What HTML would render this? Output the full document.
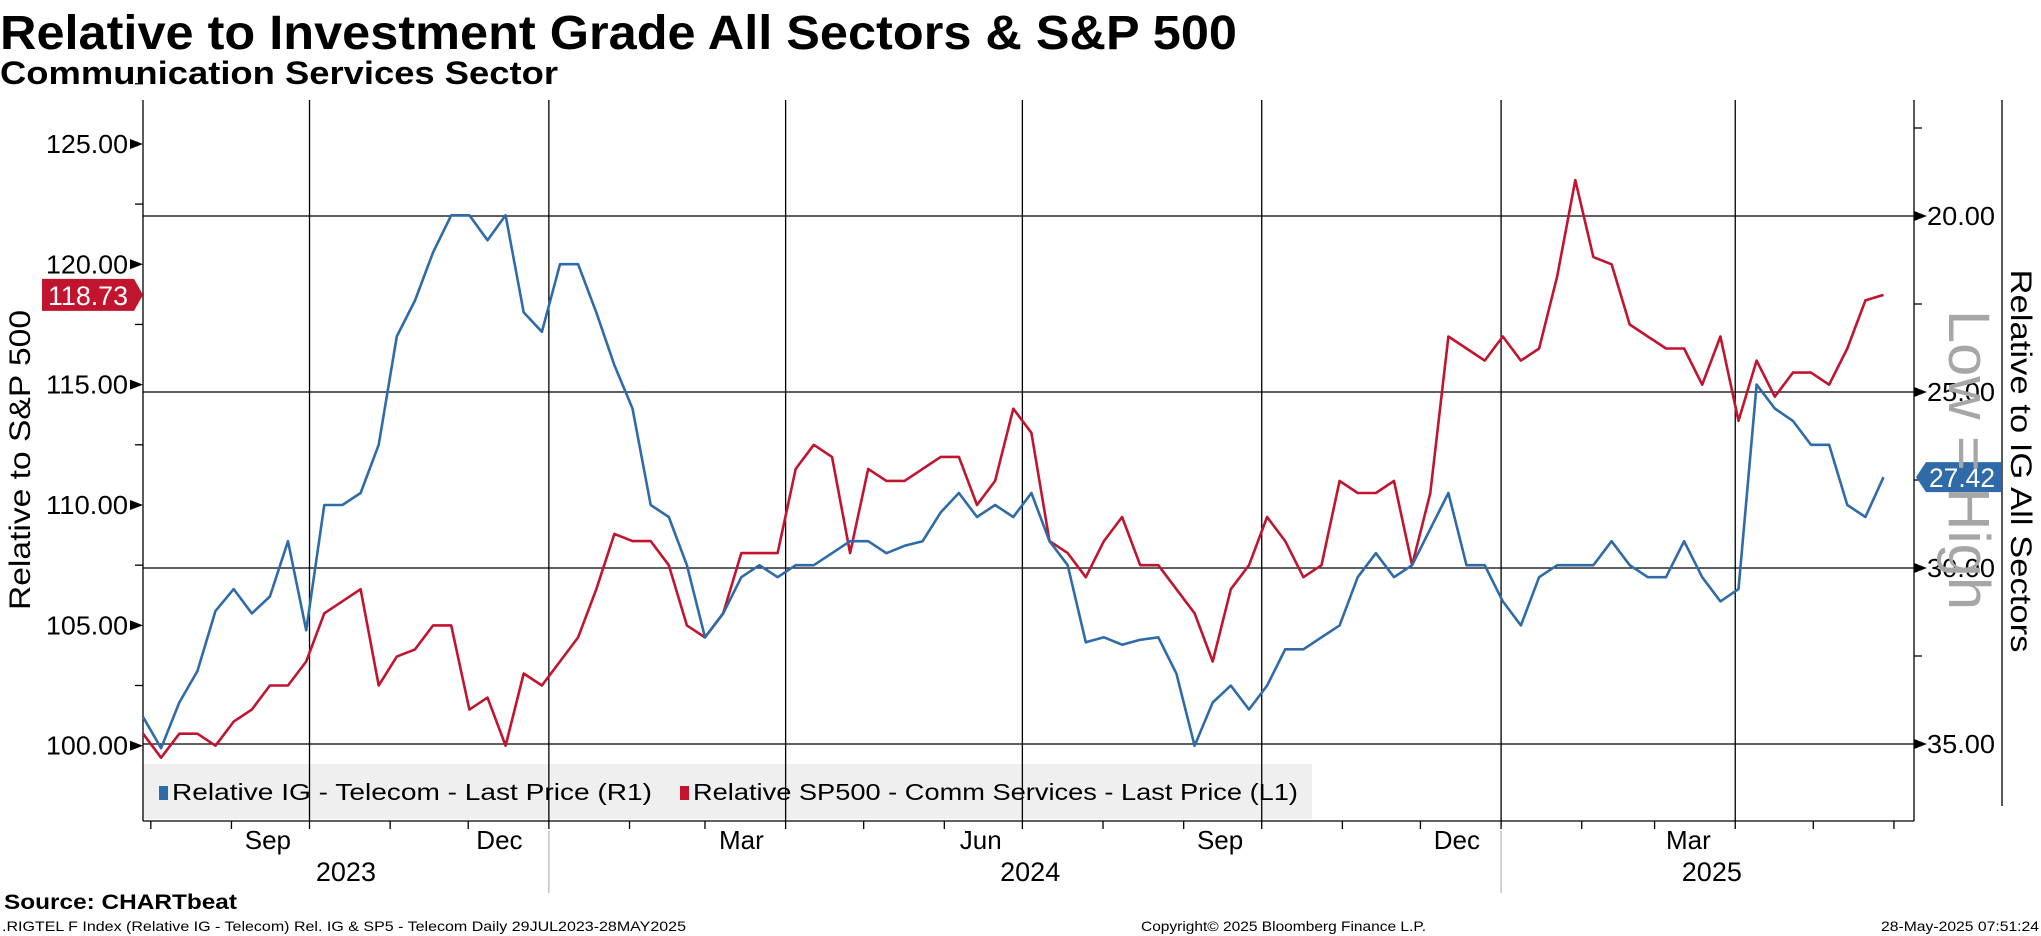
<!DOCTYPE html>
<html><head><meta charset="utf-8"><style>
html,body{margin:0;padding:0;background:#fff;}
svg{display:block;font-family:"Liberation Sans",sans-serif;}
</style></head><body>
<svg id="chart" width="2041" height="936" viewBox="0 0 2041 936">
<text x="0" y="49" font-size="48" font-weight="bold" textLength="1237" lengthAdjust="spacingAndGlyphs">Relative to Investment Grade All Sectors &amp; S&amp;P 500</text>
<text x="0" y="84" font-size="32" font-weight="bold" textLength="558" lengthAdjust="spacingAndGlyphs">Communication Services Sector</text>
<rect x="143" y="764" width="1169" height="55" fill="#efefef"/>
<g id="grid"></g>
<g id="axes"></g>
<g id="series"></g>
<g>
<rect x="159" y="786" width="9" height="14" fill="#2f6ba8"/>
<text x="172" y="800" font-size="23" textLength="480" lengthAdjust="spacingAndGlyphs">Relative IG - Telecom - Last Price (R1)</text>
<rect x="680" y="786" width="9" height="14" fill="#c0142f"/>
<text x="693" y="800" font-size="23" textLength="605" lengthAdjust="spacingAndGlyphs">Relative SP500 - Comm Services - Last Price (L1)</text>
</g>
<text transform="translate(30,460) rotate(-90)" text-anchor="middle" font-size="30" textLength="300" lengthAdjust="spacingAndGlyphs">Relative to S&amp;P 500</text>
<text transform="translate(2011,461) rotate(90)" text-anchor="middle" font-size="30" textLength="383" lengthAdjust="spacingAndGlyphs">Relative to IG All Sectors</text>
<text transform="translate(1949,460) rotate(90)" text-anchor="middle" font-size="58" fill="#a6a6a6" textLength="300" lengthAdjust="spacingAndGlyphs">Low = High</text>
<text x="4" y="909" font-size="21" font-weight="bold" textLength="233" lengthAdjust="spacingAndGlyphs">Source: CHARTbeat</text>
<text x="2" y="931" font-size="14" textLength="684" lengthAdjust="spacingAndGlyphs">.RIGTEL F Index (Relative IG - Telecom) Rel. IG &amp; SP5 - Telecom  Daily 29JUL2023-28MAY2025</text>
<text x="1141" y="931" font-size="14" textLength="285" lengthAdjust="spacingAndGlyphs">Copyright© 2025 Bloomberg Finance L.P.</text>
<text x="2039" y="931" font-size="14" text-anchor="end" textLength="158" lengthAdjust="spacingAndGlyphs">28-May-2025 07:51:24</text>
</svg>
<script>
const igValues=[34.23,35.12,33.82,32.93,31.22,30.60,31.29,30.81,29.24,31.77,28.21,28.21,27.87,26.50,23.42,22.40,21.03,19.98,19.98,20.69,19.98,22.74,23.29,21.37,21.37,22.74,24.24,25.47,28.21,28.55,29.92,31.97,31.29,30.26,29.92,30.26,29.92,29.92,29.58,29.24,29.24,29.58,29.37,29.24,28.42,27.87,28.55,28.21,28.55,27.87,29.24,29.92,32.11,31.97,32.18,32.04,31.97,33.00,35.05,33.82,33.34,34.02,33.34,32.31,32.31,31.97,31.63,30.26,29.58,30.26,29.92,28.89,27.87,29.92,29.92,30.95,31.63,30.26,29.92,29.92,29.92,29.24,29.92,30.26,30.26,29.24,30.26,30.95,30.60,24.79,25.47,25.82,26.50,26.50,28.21,28.55,27.42];
const spValues=[100.5,99.5,100.5,100.5,100,101,101.5,102.5,102.5,103.5,105.5,106,106.5,102.5,103.7,104,105,105,101.5,102,100,103,102.5,103.5,104.5,106.5,108.8,108.5,108.5,107.5,105,104.5,105.5,108,108,108,111.5,112.5,112,108,111.5,111,111,111.5,112,112,110,111,114,113,108.5,108,107,108.5,109.5,107.5,107.5,106.5,105.5,103.5,106.5,107.5,109.5,108.5,107,107.5,111,110.5,110.5,111,107.5,110.5,117,116.5,116,117,116,116.5,119.5,123.5,120.3,120,117.5,117,116.5,116.5,115,117,113.5,116,114.5,115.5,115.5,115,116.5,118.5,118.73];
const leftTicks=[100,105,110,115,120,125];
const rightTicks=[20,25,30,35];
const monthLabels=["Sep","Dec","Mar","Jun","Sep","Dec","Mar"];
const monthLabelDays=[48,137,230,322,414,505,594];
const quarterDays=[64,156,247,338,430,522,612];
const monthStartDays=[3,34,64,95,125,156,187,216,247,277,308,338,369,400,430,461,491,522,553,581,612,642,673];
const yearLabels=["2023","2024","2025"];
const yearLabelDays=[78,341,603];
const yearBreakDays=[156,522];
const lastDay=669;

const NS="http://www.w3.org/2000/svg";
const X0=143,X1=1914,Y0=100,Y1=821;
const xS=d=>143+d*2.6017;
const yL=v=>745.7-(v-100)*24.07;
const yR=v=>216+(v-20)*35.2;
function mk(tag,attrs,parent,txt){const e=document.createElementNS(NS,tag);for(const k in attrs)e.setAttribute(k,attrs[k]);if(txt!==undefined)e.textContent=txt;parent.appendChild(e);return e;}
const grid=document.getElementById('grid'),axes=document.getElementById('axes'),ser=document.getElementById('series');

rightTicks.forEach(v=>{const l=mk('line',{x1:X0,x2:X1,y1:yR(v),y2:yR(v),stroke:'#000','stroke-width':1.3},grid);

});
quarterDays.forEach(d=>{const l=mk('line',{x1:xS(d),x2:xS(d),y1:Y0,y2:Y1,stroke:'#000','stroke-width':1.3},grid);

});

// axes lines
[[X0,Y0,X0,Y1],[X1,Y0,X1,Y1],[X0,Y1,X1,Y1],[2002,100,2002,806]].forEach(a=>{const l=mk('line',{x1:a[0],y1:a[1],x2:a[2],y2:a[3],stroke:'#000','stroke-width':1.3},axes);

});

leftTicks.forEach(v=>{const y=yL(v);
const p=mk('path',{d:`M130 ${y-5} L143 ${y} L130 ${y+5} Z`,fill:'#000'},axes);


const t=mk('text',{x:128,y:y+9,'font-size':26,'text-anchor':'end',textLength:82,lengthAdjust:'spacingAndGlyphs'},axes,v.toFixed(2));


const m=mk('line',{x1:135,x2:143,y1:y-60.2,y2:y-60.2,stroke:'#000','stroke-width':1.3},axes);

});
rightTicks.forEach(v=>{const y=yR(v);
const p=mk('path',{d:`M1914 ${y-5} L1927 ${y} L1914 ${y+5} Z`,fill:'#000'},axes);


const t=mk('text',{x:1927,y:y+9,'font-size':26,textLength:68,lengthAdjust:'spacingAndGlyphs'},axes,v.toFixed(2));


const m=mk('line',{x1:1914,x2:1922,y1:y-88,y2:y-88,stroke:'#000','stroke-width':1.3},axes);

});
monthStartDays.forEach(d=>{if(xS(d)>X1)return;const l=mk('line',{x1:xS(d),x2:xS(d),y1:Y1,y2:Y1+8,stroke:'#000','stroke-width':1.3},axes);

});
monthLabels.forEach((m,i)=>{const t=mk('text',{x:xS(monthLabelDays[i]),y:849,'font-size':26,'text-anchor':'middle'},axes,m);

});
yearLabels.forEach((m,i)=>{const t=mk('text',{x:xS(yearLabelDays[i]),y:881,'font-size':27,'text-anchor':'middle'},axes,m);

});
yearBreakDays.forEach(d=>{const l=mk('line',{x1:xS(d),x2:xS(d),y1:Y1+10,y2:893,stroke:'#bbb','stroke-width':1.3},axes);

});

function line(vals,yf,color,name){const n=vals.length;const pts=vals.map((v,i)=>xS(i*lastDay/(n-1)).toFixed(1)+','+yf(v).toFixed(1)).join(' ');
const pl=mk('polyline',{points:pts,fill:'none',stroke:color,'stroke-width':2.6,'stroke-linejoin':'round'},ser);

}
line(spValues,yL,'#c0142f','series-sp500-comm-services');
line(igValues,yR,'#2f6ba8','series-ig-telecom');

// last value tags
const spLast=spValues[spValues.length-1],igLast=igValues[igValues.length-1];
let y=yL(spLast);
const rt=mk('path',{d:`M42 ${y-16} L134 ${y-16} L143 ${y} L134 ${y+16} L42 ${y+16} Z`,fill:'#c0142f'},axes);


const rtt=mk('text',{x:88,y:y+10,'font-size':27,fill:'#fff','text-anchor':'middle',textLength:80,lengthAdjust:'spacingAndGlyphs'},axes,spLast.toFixed(2));


y=yR(igLast);
const bt=mk('path',{d:`M1916 ${y} L1926 ${y-15} L2001 ${y-15} L2001 ${y+15} L1926 ${y+15} Z`,fill:'#2f6ba8'},axes);


const btt=mk('text',{x:1962,y:y+10,'font-size':27,fill:'#fff','text-anchor':'middle',textLength:66,lengthAdjust:'spacingAndGlyphs'},axes,igLast.toFixed(2));


</script>
</body></html>
